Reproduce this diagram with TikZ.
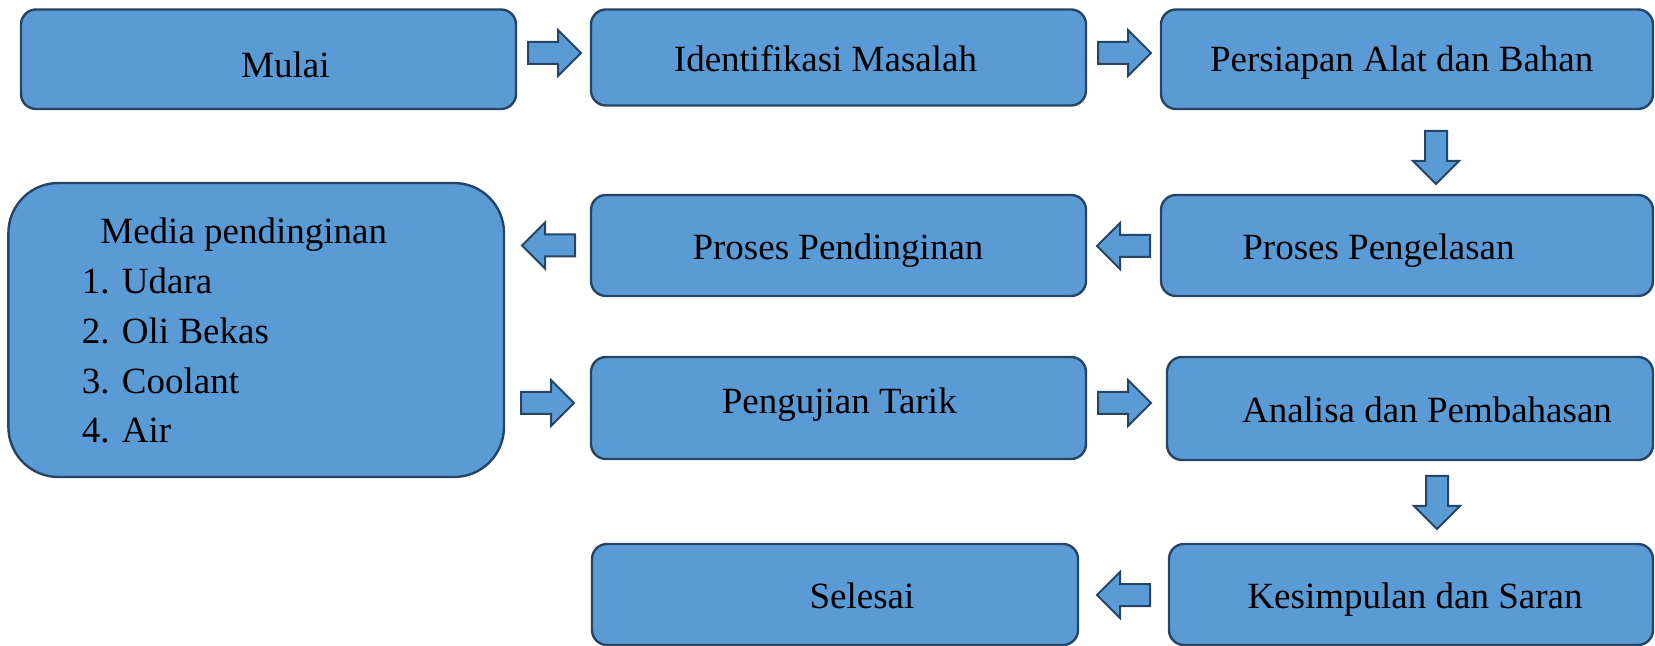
\documentclass[tikz,border=0pt]{standalone}
\usepackage{fontspec}
\setmainfont{Liberation Serif}
\definecolor{boxfill}{RGB}{91,155,213}
\definecolor{boxline}{RGB}{38,68,100}
\tikzset{
  box/.style={draw=boxline, fill=boxfill, line width=1.2pt, rounded corners=7.5pt, inner sep=0pt},
  bigbox/.style={box, rounded corners=25pt},
  lbl/.style={anchor=base, inner sep=0pt, font=\fontsize{18.5}{22}\selectfont},
  lblw/.style={lbl, anchor=base west},
  arrowst/.style={draw=boxline, fill=boxfill, line width=1pt, line join=miter},
  rarr/.pic={\path[arrowst] (0pt,-5.5pt) -- (15pt,-5.5pt) -- (15pt,-11.5pt) -- (26.5pt,0pt) -- (15pt,11.5pt) -- (15pt,5.5pt) -- (0pt,5.5pt) -- cycle;}
}
\begin{document}
\begin{tikzpicture}[x=0.5pt, y=-0.5pt]
\useasboundingbox (0,0) rectangle (1655,646);
% boxes
\node[box, minimum width=247.5pt, minimum height=49.75pt] (mulai) at (268.5,59.25) {};
\node[box, minimum width=247.5pt, minimum height=48pt] (ident) at (838.5,57.5) {};
\node[box, minimum width=246pt, minimum height=49.75pt] (persiapan) at (1407,59.25) {};
\node[box, minimum width=246pt, minimum height=50.5pt] (pengelasan) at (1407,245.5) {};
\node[box, minimum width=247.5pt, minimum height=50.5pt] (pendinginan) at (838.5,245.5) {};
\node[bigbox, minimum width=247.8pt, minimum height=147pt] (media) at (256.2,330) {};
\node[box, minimum width=247.5pt, minimum height=51pt] (pengujian) at (838.5,408) {};
\node[box, minimum width=243pt, minimum height=51.5pt] (analisa) at (1410,408.5) {};
\node[box, minimum width=243pt, minimum height=50.5pt] (selesai) at (835,594.5) {};
\node[box, minimum width=242pt, minimum height=50.5pt] (kesimpulan) at (1411,594.5) {};
% texts
\node[lbl] (tmulai) at (285.4,77.3) {Mulai};
\node[lbl] (tident) at (825.5,71.7) {Identifikasi Masalah};
\node[lbl] (tpersiapan) at (1401.7,71.7) {Persiapan Alat dan Bahan};
\node[lbl] (tpengelasan) at (1378.5,260) {Proses Pengelasan};
\node[lbl] (tpendinginan) at (838,260) {Proses Pendinginan};
\node[lbl] (tpengujian) at (839.3,413.3) {Pengujian Tarik};
\node[lbl] (tanalisa) at (1427,422.3) {Analisa dan Pembahasan};
\node[lbl] (tkesimpulan) at (1415,608.3) {Kesimpulan dan Saran};
\node[lbl] (tselesai) at (862,608) {Selesai};
\node[lblw] (tmedia) at (100,244) {Media pendinginan};
\node[lblw] (tm1) at (81.5,294) {1. Udara};
\node[lblw] (tm2) at (81.5,344) {2. Oli Bekas};
\node[lblw] (tm3) at (81.5,394) {3. Coolant};
\node[lblw] (tm4) at (81.5,443) {4. Air};
% block arrows
\pic at (528,53) {rarr};
\pic at (1098,53) {rarr};
\pic[rotate=-90] at (1436,131) {rarr};
\pic[rotate=180] at (1150,246) {rarr};
\pic[rotate=180] at (575,245.5) {rarr};
\pic at (521,403) {rarr};
\pic at (1098,403) {rarr};
\pic[rotate=-90] at (1437,476) {rarr};
\pic[rotate=180] at (1150,595) {rarr};
\end{tikzpicture}
\end{document}
